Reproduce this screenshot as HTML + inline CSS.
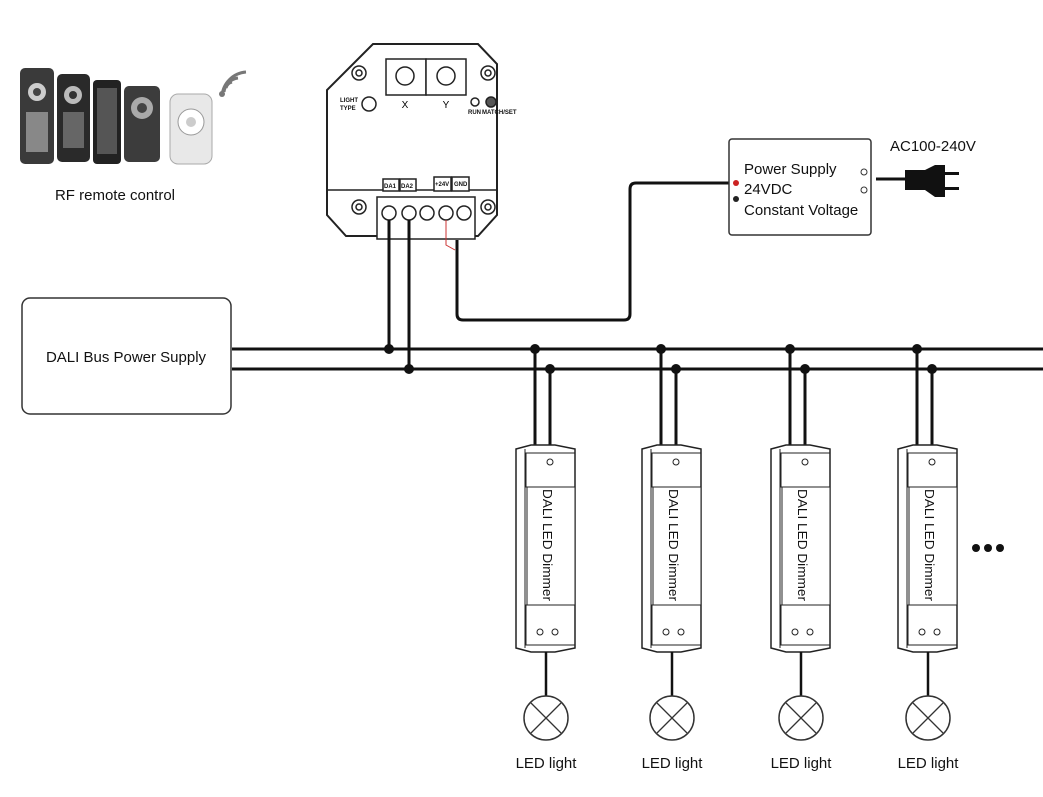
<!DOCTYPE html>
<html><head><meta charset="utf-8"><style>
body{margin:0;background:#fff;}
svg{display:block;font-family:"Liberation Sans",sans-serif;}
</style></head><body>
<svg width="1043" height="797" viewBox="0 0 1043 797" xmlns="http://www.w3.org/2000/svg">
<!-- remotes -->
<g>
<rect x="20" y="68" width="34" height="96" rx="5" fill="#3a3a3a"/>
<circle cx="37" cy="92" r="9" fill="#ccc"/><circle cx="37" cy="92" r="4" fill="#444"/>
<rect x="26" y="112" width="22" height="40" fill="#888"/>
<rect x="57" y="74" width="33" height="88" rx="5" fill="#2a2a2a"/>
<circle cx="73" cy="95" r="9" fill="#bbb"/><circle cx="73" cy="95" r="4" fill="#333"/>
<rect x="63" y="112" width="21" height="36" fill="#666"/>
<rect x="93" y="80" width="28" height="84" rx="4" fill="#222"/>
<rect x="97" y="88" width="20" height="66" fill="#555"/>
<rect x="124" y="86" width="36" height="76" rx="5" fill="#3c3c3c"/>
<circle cx="142" cy="108" r="11" fill="#aaa"/><circle cx="142" cy="108" r="5" fill="#444"/>
<rect x="170" y="94" width="42" height="70" rx="8" fill="#e8e8e8" stroke="#aaa"/>
<circle cx="191" cy="122" r="13" fill="#fff" stroke="#999"/><circle cx="191" cy="122" r="5" fill="#ccc"/>
<path d="M226 88 a8 8 0 0 1 6 -6" stroke="#777" stroke-width="3" fill="none"/>
<path d="M224 92 a16 16 0 0 1 14 -14" stroke="#777" stroke-width="3" fill="none"/>
<path d="M222 96 a26 26 0 0 1 24 -24" stroke="#777" stroke-width="3" fill="none"/>
<circle cx="222" cy="94" r="3" fill="#777"/>
<text x="115" y="200" font-size="15" text-anchor="middle" fill="#111">RF remote control</text>
</g>
<!-- controller -->
<g stroke="#222" fill="#fff" stroke-width="1.5">
<path d="M373 44 L478 44 L497 64 L497 215 L478 236 L346 236 L327 215 L327 90 Z" stroke-width="2"/>
<path d="M327 190 L497 190" />
<circle cx="359" cy="73" r="7"/><circle cx="359" cy="73" r="3"/>
<circle cx="488" cy="73" r="7"/><circle cx="488" cy="73" r="3"/>
<circle cx="359" cy="207" r="7"/><circle cx="359" cy="207" r="3"/>
<circle cx="488" cy="207" r="7"/><circle cx="488" cy="207" r="3"/>
<rect x="386" y="59" width="40" height="36"/><rect x="426" y="59" width="40" height="36"/>
<circle cx="405" cy="76" r="9"/><circle cx="446" cy="76" r="9"/>
<circle cx="369" cy="104" r="7"/>
<circle cx="475" cy="102" r="4"/><circle cx="491" cy="102" r="5" fill="#555"/>
<rect x="383" y="179" width="16" height="12"/><rect x="400" y="179" width="16" height="12"/>
<rect x="434" y="177" width="17" height="14"/><rect x="452" y="177" width="17" height="14"/>
<rect x="377" y="197" width="98" height="42"/>
<circle cx="389" cy="213" r="7"/><circle cx="409" cy="213" r="7"/><circle cx="427" cy="213" r="7"/><circle cx="446" cy="213" r="7"/><circle cx="464" cy="213" r="7"/>
</g>
<g font-size="6" fill="#111" font-weight="bold">
<text x="340" y="102">LIGHT</text><text x="340" y="110">TYPE</text>
<text x="468" y="114">RUN</text><text x="482" y="114">MATCH/SET</text>
<text x="384" y="188">DA1</text><text x="401" y="188">DA2</text>
<text x="435" y="186">+24V</text><text x="454" y="186">GND</text>
</g>
<text x="405" y="108" font-size="10" text-anchor="middle">X</text>
<text x="446" y="108" font-size="10" text-anchor="middle">Y</text>
<!-- wires -->
<g fill="none" stroke="#111" stroke-width="3">
<path d="M389 220 V349"/><path d="M409 220 V369"/>
<path d="M457 240 V314 Q457 320 463 320 H624 Q630 320 630 314 V189 Q630 183 636 183 H730"/>
<path d="M232 349 H1043"/><path d="M232 369 H1043"/>
<path d="M876 179 H905"/>
</g>
<path d="M446 220 V245 L455 250" stroke="#c33" fill="none"/>
<circle cx="389" cy="349" r="5" fill="#111"/><circle cx="409" cy="369" r="5" fill="#111"/>
<!-- plug -->
<path d="M905 170 H925 L935 165 H945 V197 H935 L925 190 H905 Z" fill="#111"/>
<rect x="945" y="172" width="14" height="3" fill="#111"/><rect x="945" y="187" width="14" height="3" fill="#111"/>
<text x="890" y="151" font-size="15" fill="#111">AC100-240V</text>
<!-- power supply -->
<rect x="729" y="139" width="142" height="96" rx="3" fill="#fff" stroke="#333" stroke-width="1.5"/>
<circle cx="736" cy="183" r="3" fill="#c22"/><circle cx="736" cy="199" r="3" fill="#222"/>
<circle cx="864" cy="172" r="3" fill="none" stroke="#333"/><circle cx="864" cy="190" r="3" fill="none" stroke="#333"/>
<g font-size="15" fill="#111"><text x="744" y="174">Power Supply</text><text x="744" y="194">24VDC</text><text x="744" y="215">Constant Voltage</text></g>
<!-- DALI PSU -->
<rect x="22" y="298" width="209" height="116" rx="8" fill="#fff" stroke="#333" stroke-width="1.5"/>
<text x="126" y="362" font-size="15" text-anchor="middle" fill="#111">DALI Bus Power Supply</text>
<!-- dimmers -->
<defs>
<g id="dim">
<path d="M0 0 V96" stroke="#111" stroke-width="3" fill="none"/>
<path d="M15 20 V96" stroke="#111" stroke-width="3" fill="none"/>
<circle cx="0" cy="0" r="5" fill="#111"/><circle cx="15" cy="20" r="5" fill="#111"/>
<path d="M-19 100 L-4 96 H20 L40 100 V299 L20 303 H-4 L-19 299 Z" fill="#fff" stroke="#222" stroke-width="1.5"/>
<path d="M-10 100 V299" stroke="#222" fill="none"/>
<rect x="-9" y="104" width="49" height="34" fill="none" stroke="#222"/>
<rect x="-9" y="256" width="49" height="40" fill="none" stroke="#222"/>
<rect x="-8" y="138" width="48" height="118" fill="#fff" stroke="#222"/>
<circle cx="15" cy="113" r="3" fill="none" stroke="#222"/>
<circle cx="5" cy="283" r="3" fill="none" stroke="#222"/><circle cx="20" cy="283" r="3" fill="none" stroke="#222"/>
<text transform="translate(8,140) rotate(90)" font-size="13" fill="#111" textLength="112" lengthAdjust="spacingAndGlyphs">DALI LED Dimmer</text>
<path d="M11 303 V347" stroke="#111" stroke-width="2.5"/>
<circle cx="11" cy="369" r="22" fill="#fff" stroke="#333" stroke-width="1.5"/>
<path d="M-4 354 L26 384 M26 354 L-4 384" stroke="#333" stroke-width="1.3"/>
<text x="11" y="419" font-size="15" text-anchor="middle" fill="#111">LED light</text>
</g>
</defs>
<use href="#dim" x="535" y="349"/>
<use href="#dim" x="661" y="349"/>
<use href="#dim" x="790" y="349"/>
<use href="#dim" x="917" y="349"/>
<circle cx="976" cy="548" r="4" fill="#111"/><circle cx="988" cy="548" r="4" fill="#111"/><circle cx="1000" cy="548" r="4" fill="#111"/>
</svg>
</body></html>
